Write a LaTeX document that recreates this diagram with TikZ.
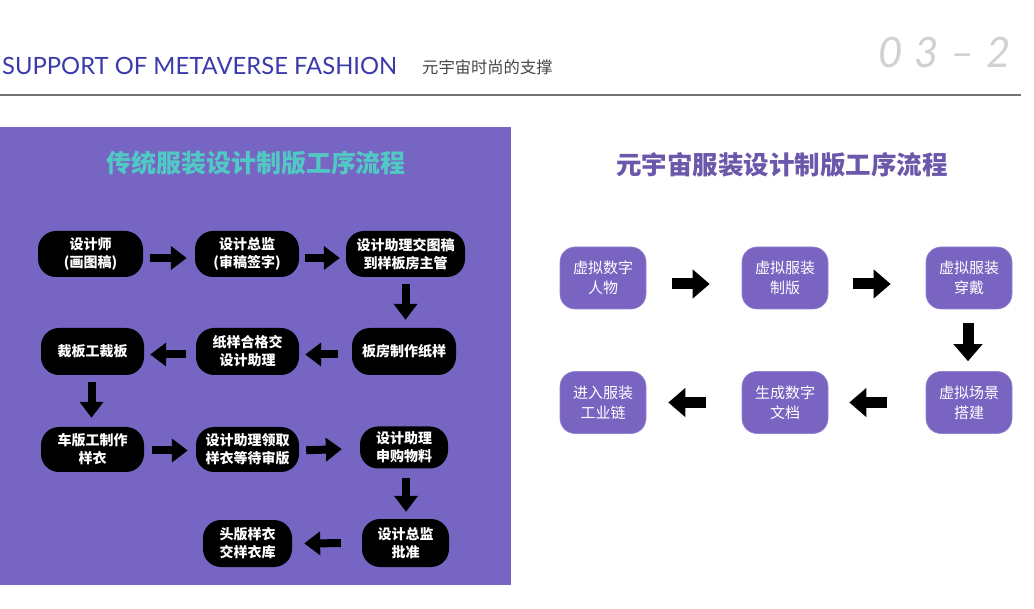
\documentclass[tikz,border=0pt]{standalone}
\usepackage{fontspec}
\usetikzlibrary{arrows.meta}
\newfontfamily\cjk{Noto Sans CJK SC}
\newfontfamily\hdrfont{Lato}
\definecolor{panelpurple}{RGB}{119,101,196}
\definecolor{boxpurple}{RGB}{121,100,194}
\definecolor{tealtitle}{RGB}{82,200,196}
\definecolor{rtitle}{RGB}{108,88,170}
\definecolor{hdrblue}{RGB}{58,58,172}
\definecolor{hdrgray}{RGB}{70,70,70}
\tikzset{
  lbox/.style={fill=black, rounded corners=18pt, text=white, align=center, inner sep=0pt,
    font=\cjk\bfseries\fontsize{14}{18}\selectfont, minimum height=46pt},
  rbox/.style={fill=boxpurple, draw=boxpurple!80!white, line width=0.6pt, rounded corners=15pt, text=white, align=center, inner sep=0pt,
    font=\cjk\fontsize{15}{20}\selectfont, minimum width=86pt, minimum height=62pt},
  larrow/.style={black, line width=8pt, -{Triangle[length=16pt,width=23pt]}},
  rarrow/.style={black, line width=11pt, -{Triangle[length=17pt,width=28pt]}},
}
\begin{document}
\begin{tikzpicture}[x=1pt,y=-1pt]
\useasboundingbox (0,0) rectangle (1034,609);
\fill[white] (0,0) rectangle (1034,609);
% header
\node[anchor=base west, inner sep=0pt, text=hdrblue, font=\hdrfont\fontsize{23.8}{24}\selectfont] (hdr) at (2,75) {SUPPORT OF METAVERSE FASHION};
\node[anchor=base west, inner sep=0pt, text=hdrgray, font=\cjk\fontsize{16.3}{17}\selectfont] (hdrcn) at (422,74) {元宇宙时尚的支撑};
\node[anchor=base west, inner sep=0pt, text=black!18, font=\hdrfont\itshape\addfontfeature{LetterSpace=28}\fontsize{42}{42}\selectfont] (num) at (878,68) {03–2};
\draw[black!55, line width=1.2pt] (0,95) -- (1021,95);
% left panel
\fill[panelpurple] (0,127) rectangle (511,585);
\node[text=tealtitle, font=\cjk\bfseries\fontsize{25}{25}\selectfont] (ltitle) at (256,163) {传统服装设计制版工序流程};
% left nodes
\node[lbox, minimum width=105pt] (n1) at (90.5,254) {设计师\\(画图稿)};
\node[lbox, minimum width=104pt] (n2) at (247,254) {设计总监\\(审稿签字)};
\node[lbox, minimum width=119pt] (n3) at (405.5,254) {设计助理交图稿\\到样板房主管};
\node[lbox, minimum width=103pt, minimum height=47pt] (n4) at (92.5,351.5) {裁板工裁板};
\node[lbox, minimum width=103pt, minimum height=47pt] (n5) at (247.5,351.5) {纸样合格交\\设计助理};
\node[lbox, minimum width=104pt, minimum height=47pt] (n6) at (404,351.5) {板房制作纸样};
\node[lbox, minimum width=103pt, minimum height=45pt] (n7) at (92.5,449.5) {车版工制作\\样衣};
\node[lbox, minimum width=103pt, minimum height=45pt] (n8) at (247.5,449.5) {设计助理领取\\样衣等待审版};
\node[lbox, minimum width=88pt, minimum height=42pt] (n9) at (404,447.5) {设计助理\\申购物料};
\node[lbox, minimum width=89pt, minimum height=47pt] (n10) at (247.5,543.5) {头版样衣\\交样衣库};
\node[lbox, minimum width=87pt, minimum height=48pt] (n11) at (405.5,543) {设计总监\\批准};
% left arrows
\draw[larrow, shorten <=7pt, shorten >=8pt] ([yshift=-4pt]n1.east) -- ([yshift=-4pt]n2.west);
\draw[larrow, shorten <=6pt, shorten >=6pt] ([yshift=-4pt]n2.east) -- ([yshift=-4pt]n3.west);
\draw[larrow, shorten <=7pt, shorten >=8pt] (n3.south) -- (n3.south |- n6.north);
\draw[larrow, shorten <=14pt, shorten >=6pt] ([yshift=-3pt]n6.west) -- ([yshift=-3pt]n5.east);
\draw[larrow, shorten <=10pt, shorten >=6pt] ([yshift=-3pt]n5.west) -- ([yshift=-3pt]n4.east);
\draw[larrow, shorten <=7pt, shorten >=9pt] ([xshift=-1pt]n4.south) -- ([xshift=-1pt]n4.south |- n7.north);
\draw[larrow, shorten <=8pt, shorten >=8pt] ([yshift=-1pt]n7.east) -- ([yshift=-1pt]n8.west);
\draw[larrow, shorten <=7pt, shorten >=18pt] ([yshift=-1pt]n8.east) -- ([yshift=-1pt]n9.west);
\draw[larrow, shorten <=9pt, shorten >=7pt] ([xshift=2pt]n9.south) -- ([xshift=2pt]n9.south |- n11.north);
\draw[larrow, shorten <=21pt, shorten >=12pt] (n11.west) -- (n10.east);
% right panel
\node[text=rtitle, font=\cjk\bfseries\fontsize{25.5}{26}\selectfont] (rtitle) at (782,165) {元宇宙服装设计制版工序流程};
\node[rbox] (m1) at (603,278) {虚拟数字\\人物};
\node[rbox] (m2) at (785,278) {虚拟服装\\制版};
\node[rbox] (m3) at (969,278) {虚拟服装\\穿戴};
\node[rbox] (m4) at (969,402.5) {虚拟场景\\搭建};
\node[rbox] (m5) at (785,402.5) {生成数字\\文档};
\node[rbox] (m6) at (603,402.5) {进入服装\\工业链};
\draw[rarrow, shorten <=26pt, shorten >=32pt] ([yshift=-6pt]m1.east) -- ([yshift=-6pt]m2.west);
\draw[rarrow, shorten <=25pt, shorten >=35pt] ([yshift=-6pt]m2.east) -- ([yshift=-6pt]m3.west);
\draw[rarrow, shorten <=14pt, shorten >=10pt] ([xshift=-1pt]m3.south) -- ([xshift=-1pt]m3.south |- m4.north);
\draw[rarrow, shorten <=39pt, shorten >=21pt] (m4.west) -- (m5.east);
\draw[rarrow, shorten <=36pt, shorten >=22pt] (m5.west) -- (m6.east);
\end{tikzpicture}
\end{document}
